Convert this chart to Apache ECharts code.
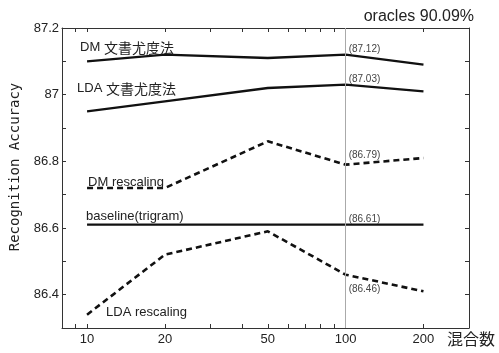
<!DOCTYPE html>
<html>
<head>
<meta charset="utf-8">
<script src="https://cdn.jsdelivr.net/npm/echarts@6/dist/echarts.min.js"></script>
<style>
  html, body { margin: 0; padding: 0; background: #fff; }
  #chart { width: 499px; height: 353px; }
</style>
</head>
<body>
<div id="chart"></div>
<script>
// Number of mixture components (x) and recognition accuracy per method
const mixtures = [10, 20, 50, 100, 200];
const dmDocLikelihood = [87.10, 87.12, 87.11, 87.12, 87.09];
const ldaDocLikelihood = [86.95, 86.98, 87.02, 87.03, 87.01];
const dmRescaling = [86.72, 86.72, 86.86, 86.79, 86.81];
const baselineTrigram = [86.61, 86.61, 86.61, 86.61, 86.61];
const ldaRescaling = [86.34, 86.52, 86.59, 86.46, 86.41];

const seriesNames = ['DM 文書尤度法', 'LDA 文書尤度法', 'DM rescaling', 'baseline(trigram)', 'LDA rescaling'];
const xTickLabels = [10, 20, 50, 100, 200];
const xTickMarks = [9, 10, 20, 30, 40, 50, 60, 70, 80, 90, 100, 200, 300];
const highlightX = 100;
const titleText = 'oracles 90.09%';
const xName = '混合数';
const yName = 'Recognition Accuracy';

const LATIN = '"Liberation Sans", Arial, sans-serif';
const CJK = '"Noto Sans CJK JP", sans-serif';

// label placement for the series name (first point) and value (highlighted point)
const nameLabelPos = [[-7, -14], [-10, -23], [1, -6], [-1, -8], [19, -2]];
const valueLabelPos = [[3, -5], [3, -5], [3, -9], [3, -5], [3, 15]];
const dashed = [false, false, true, false, true];
const allValues = [dmDocLikelihood, ldaDocLikelihood, dmRescaling, baselineTrigram, ldaRescaling];

// Latin part in the sans font, Japanese part slightly larger in the CJK font
function nameFormatter(name) {
  const m = name.match(/^([A-Za-z()\s]+?)\s([^\x00-\x7F]+)$/);
  if (!m) return '{a|' + name + '}';
  return '{a|' + m[1] + ' }{b|' + m[2] + '}';
}

function buildSeries(values, i) {
  const data = mixtures.map((x, j) => {
    const item = { value: [x, values[j]] };
    if (j === 0) {
      item.label = {
        show: true,
        formatter: nameFormatter(seriesNames[i]),
        position: nameLabelPos[i],
        align: 'left',
        verticalAlign: 'middle',
        rich: {
          a: { fontFamily: LATIN, fontSize: 13, lineHeight: 16, verticalAlign: 'middle', color: '#222' },
          b: { fontFamily: CJK, fontSize: 14, lineHeight: 16, verticalAlign: 'middle', color: '#222' }
        }
      };
    } else if (x === highlightX) {
      item.label = {
        show: true,
        formatter: '(' + values[j].toFixed(2) + ')',
        position: valueLabelPos[i],
        align: 'left',
        verticalAlign: 'middle',
        fontFamily: LATIN,
        fontSize: 10,
        color: '#444'
      };
    }
    return item;
  });
  const s = {
    name: seriesNames[i],
    type: 'line',
    data: data,
    symbol: 'circle',
    symbolSize: 0,
    itemStyle: { color: '#111' },
    lineStyle: {
      color: '#111',
      width: dashed[i] ? 2.6 : 2.3,
      type: dashed[i] ? [6, 4] : 'solid'
    },
    label: { show: false },
    emphasis: { disabled: true },
    animation: false,
    z: 3
  };
  if (i === 0) {
    s.markLine = {
      silent: true,
      symbol: 'none',
      label: { show: false },
      lineStyle: { color: '#aaa', width: 1, type: 'solid' },
      data: [{ xAxis: highlightX }],
      animation: false
    };
  }
  return s;
}

const axisLineStyle = { color: '#333', width: 1 };

const xBase = {
  type: 'log',
  logBase: 10,
  min: 8,
  max: 300,
  splitLine: { show: false },
  axisLine: { show: true, lineStyle: axisLineStyle },
  axisTick: { show: true, inside: true, length: 4, lineStyle: axisLineStyle, customValues: xTickMarks },
  minorTick: { show: false }
};

const option = {
  backgroundColor: '#fff',
  animation: false,
  title: {
    text: titleText,
    right: 20,
    top: 4,
    textStyle: { fontFamily: LATIN, fontSize: 16, fontWeight: 'normal', color: '#222' }
  },
  grid: { left: 62, right: 30, top: 28, bottom: 25 },
  xAxis: [
    Object.assign({}, xBase, {
      position: 'bottom',
      name: xName,
      nameLocation: 'end',
      nameGap: -22,
      nameTextStyle: {
        fontFamily: CJK, fontSize: 16, color: '#222',
        align: 'left', verticalAlign: 'top', padding: [3, 0, 0, 0]
      },
      axisLabel: {
        show: true,
        customValues: xTickLabels,
        margin: 5,
        fontFamily: LATIN,
        fontSize: 13,
        color: '#222',
        formatter: v => String(Math.round(v))
      }
    }),
    Object.assign({}, xBase, {
      position: 'top',
      axisLabel: { show: false }
    })
  ],
  yAxis: [
    {
      type: 'value',
      min: 86.3,
      max: 87.2,
      interval: 0.1,
      position: 'left',
      name: yName,
      nameLocation: 'middle',
      nameGap: 31,
      nameTextStyle: {
        fontFamily: '"DejaVu Sans Mono", monospace', fontSize: 14, color: '#222',
        padding: [0, 0, 0, 22]
      },
      splitLine: { show: false },
      axisLine: { show: true, lineStyle: axisLineStyle },
      axisTick: { show: true, inside: true, length: 4, lineStyle: axisLineStyle },
      axisLabel: {
        margin: 3,
        fontFamily: LATIN,
        fontSize: 13,
        color: '#222',
        formatter: v => (Math.round(v * 10) % 2 === 0 ? String(+v.toFixed(1)) : '')
      }
    },
    {
      type: 'value',
      min: 86.3,
      max: 87.2,
      interval: 0.1,
      position: 'right',
      splitLine: { show: false },
      axisLine: { show: true, lineStyle: axisLineStyle },
      axisTick: { show: true, inside: true, length: 4, lineStyle: axisLineStyle },
      axisLabel: { show: false }
    }
  ],
  series: allValues.map(buildSeries)
};

const chart = echarts.init(document.getElementById('chart'), null, { renderer: 'canvas' });
chart.setOption(option);
</script>
</body>
</html>
